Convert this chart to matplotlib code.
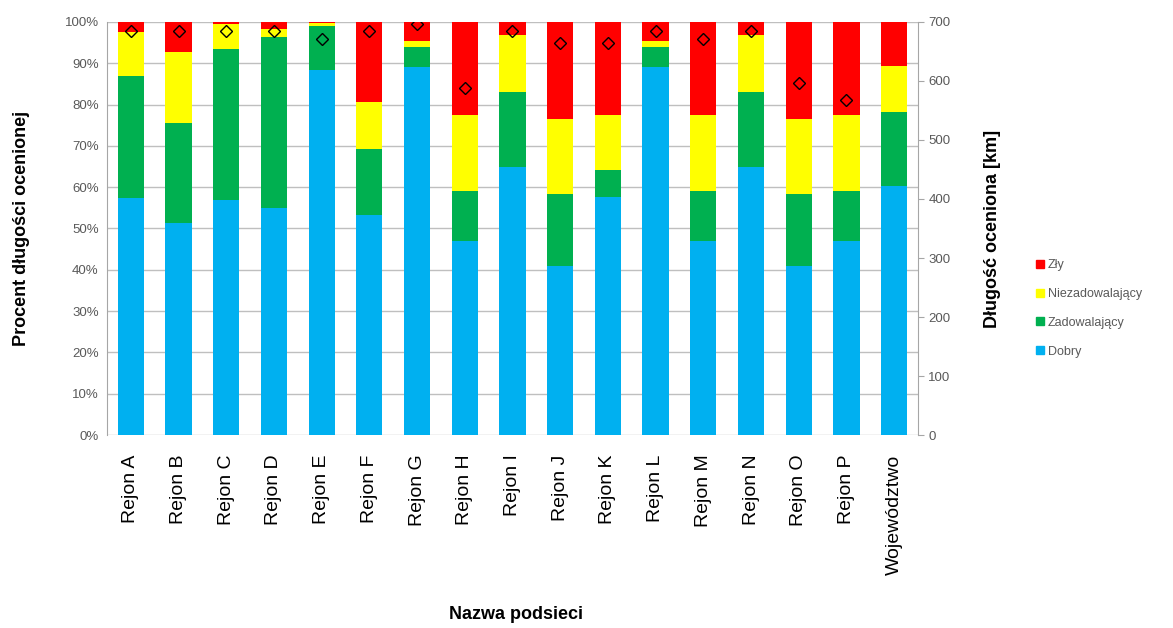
import numpy as np
import matplotlib.pyplot as plt
from matplotlib.lines import Line2D

# percentages of evaluated length per region
regions = ["Rejon A", "Rejon B", "Rejon C", "Rejon D", "Rejon E", "Rejon F", "Rejon G",
           "Rejon H", "Rejon I", "Rejon J", "Rejon K", "Rejon L", "Rejon M", "Rejon N",
           "Rejon O", "Rejon P", "Województwo"]
dobry = [57.5, 51.3, 56.9, 55.0, 88.3, 53.2, 89.0, 47.0, 64.8, 41.0, 57.6, 89.1, 47.0, 64.8, 41.0, 47.0, 60.4]
zadow = [29.5, 24.2, 36.5, 41.4, 10.7, 16.1, 4.9, 12.1, 18.3, 17.4, 6.6, 4.8, 12.1, 18.3, 17.4, 12.1, 17.9]
niezad = [10.5, 17.3, 6.2, 1.9, 0.7, 11.4, 1.6, 18.3, 13.8, 18.0, 13.2, 1.5, 18.3, 13.8, 18.0, 18.3, 11.0]
zly = [2.5, 7.2, 0.4, 1.7, 0.3, 19.3, 4.5, 22.6, 3.1, 23.6, 22.6, 4.6, 22.6, 3.1, 23.6, 22.6, 10.7]
# evaluated length [km], right axis (none shown for the voivodeship)
dlugosc = [684, 684, 684, 685, 672, 684, 696, 588, 684, 665, 665, 684, 672, 684, 596, 568, np.nan]

colors = {"Dobry": "#00B0F0", "Zadowalający": "#00B050",
          "Niezadowalający": "#FFFF00", "Zły": "#FF0000"}

plt.rcParams['font.family'] = ['Liberation Sans', 'DejaVu Sans']

fig = plt.figure(figsize=(11.73, 6.28), dpi=100)
ax = fig.add_axes([0.0912, 0.3073, 0.6914, 0.6577])
x = np.arange(len(regions))
w = 0.55

bottom = np.zeros(len(regions))
for name, vals in [("Dobry", dobry), ("Zadowalający", zadow),
                   ("Niezadowalający", niezad), ("Zły", zly)]:
    ax.bar(x, vals, w, bottom=bottom, color=colors[name], zorder=2)
    bottom += np.array(vals)

ax.set_ylim(0, 100)
ax.set_xlim(-0.5, len(regions) - 0.5)
ax.set_yticks(np.arange(0, 101, 10))
ax.set_yticklabels([f"{v}%" for v in range(0, 101, 10)], color="#595959", fontsize=9.5)
ax.yaxis.grid(True, color="#BFBFBF", lw=1, zorder=0)
ax.tick_params(axis='y', length=0, pad=6)
ax.set_xticks(x)
ax.set_xticklabels(regions, rotation=90, fontsize=14)
ax.tick_params(axis='x', length=0, pad=14)
for s in ["top", "bottom"]:
    ax.spines[s].set_visible(False)
ax.spines["left"].set_color("#A6A6A6")
ax.spines["right"].set_visible(False)

ax2 = ax.twinx()
ax2.plot(x, dlugosc, ls="none", marker="D", ms=6.5, mfc="none", mec="black", mew=1, zorder=3)
ax2.set_ylim(0, 700)
ax2.set_yticks(np.arange(0, 701, 100))
ax2.tick_params(axis='y', colors="#A6A6A6", labelcolor="#595959", labelsize=9.5, length=4)
for s in ["top", "bottom", "left"]:
    ax2.spines[s].set_visible(False)
ax2.spines["right"].set_color("#A6A6A6")

ax.set_ylabel("Procent długości ocenionej", fontsize=13, fontweight="bold", labelpad=25)
ax2.set_ylabel("Długość oceniona [km]", fontsize=13, fontweight="bold", labelpad=24)
fig.text(0.44, 0.015, "Nazwa podsieci", fontsize=13, fontweight="bold", ha="center")

handles = [Line2D([], [], ls="none", marker="s", ms=6, color=colors[n])
           for n in ["Zły", "Niezadowalający", "Zadowalający", "Dobry"]]
fig.legend(handles, ["Zły", "Niezadowalający", "Zadowalający", "Dobry"],
           loc="center left", bbox_to_anchor=(0.872, 0.509), frameon=False,
           fontsize=9, labelcolor="#595959", handletextpad=0.1, labelspacing=1.35,
           handlelength=1)

fig.savefig("out.png", dpi=100)
